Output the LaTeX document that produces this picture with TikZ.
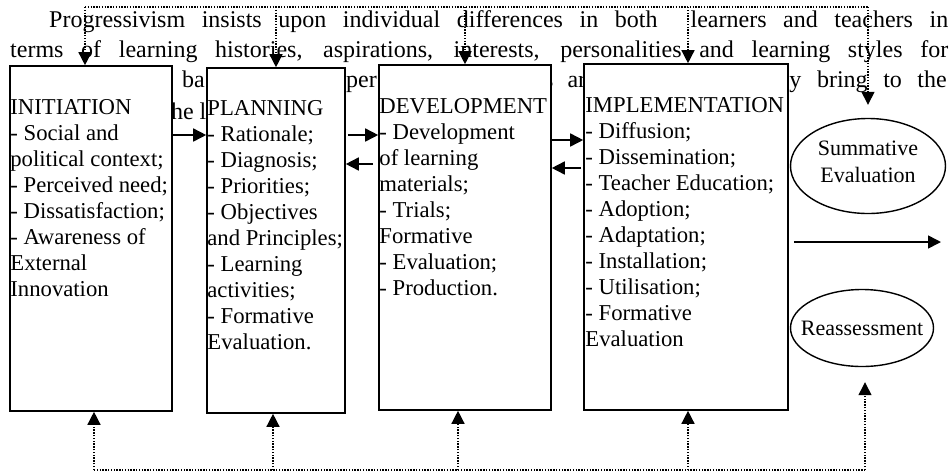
\documentclass[tikz,border=0pt]{standalone}
\usepackage{fontspec}
\setmainfont{Liberation Serif}
\usetikzlibrary{arrows.meta,positioning,shapes.geometric}

\begin{document}
\begin{tikzpicture}[x=1pt,y=-1pt,
    stage/.style={draw, line width=1.6pt, fill=white, inner sep=0pt, minimum height=345pt},
    stagetext/.style={anchor=north west, inner sep=0pt, align=left, font=\fontsize{22.7}{26}\selectfont},
    outcome/.style={ellipse, draw, line width=1.4pt, fill=white, inner sep=0pt},
    outcometext/.style={inner sep=0pt, align=center, font=\fontsize{22}{27}\selectfont},
    para/.style={anchor=base west, inner sep=0pt, font=\fontsize{24}{31}\selectfont},
    flow/.style={line width=1.6pt, -{Triangle[length=13pt,width=13pt]}},
    feedback/.style={line width=1.4pt, dash pattern=on 1.4pt off 1.4pt},
    feedbackarrow/.style={feedback, -{Triangle[length=13pt,width=13pt]}}]
\useasboundingbox (0,0) rectangle (951,475);

% text running behind the boxes
\node[para] (l1) at (49,27) {\makebox[899pt][s]{Progressivism insists upon individual differences in both\ \ learners and teachers in}};
\node[para] (l2) at (10,57) {\makebox[938pt][s]{terms of learning histories, aspirations, interests, personalities and learning styles for}};
\node[para] (l3a) at (182,87) {ba};
\node[para] (l3b) at (346,87) {per};
\node[para] (l3c) at (544,87) {\makebox[42pt][s]{s ar}};
\node[para, anchor=base east] (l3d) at (947,87) {\makebox[168pt][s]{ey bring to the}};
\node[para] (l4) at (171,119) {\makebox[35pt][s]{he l}};

% stages
\node[stage, minimum width=162pt] (init) at (91,238.5) {};
\node[stage, minimum width=138pt] (plan) at (276,240.5) {};
\node[stage, minimum width=172pt] (dev)  at (465,237.5) {};
\node[stage, minimum width=204pt, minimum height=346pt] (impl) at (686,237) {};

\node[stagetext, below right=34pt and 1pt of init.north west] (initT)
    {INITIATION\\- Social and\\political context;\\- Perceived need;\\- Dissatisfaction;\\- Awareness of\\External\\Innovation};
\node[stagetext, below right=33pt and 1pt of plan.north west] (planT)
    {PLANNING\\- Rationale;\\- Diagnosis;\\- Priorities;\\- Objectives\\and Principles;\\- Learning\\activities;\\- Formative\\Evaluation.};
\node[stagetext, below right=34pt and 1pt of dev.north west] (devT)
    {DEVELOPMENT\\- Development\\of learning\\materials;\\- Trials;\\Formative\\- Evaluation;\\- Production.};
\node[stagetext, below right=34pt and 2pt of impl.north west] (implT)
    {IMPLEMENTATION\\- Diffusion;\\- Dissemination;\\- Teacher Education;\\- Adoption;\\- Adaptation;\\- Installation;\\- Utilisation;\\- Formative\\Evaluation};

% outcomes
\node[outcome, minimum width=155pt, minimum height=95pt,
      label={[outcometext, yshift=4pt]center:Summative\\Evaluation}] (summ) at (868,166) {};
\node[outcome, minimum width=143pt, minimum height=77pt,
      label={[outcometext]center:Reassessment}] (reas) at (862,328) {};

% forward and backward arrows
\draw[flow] (init.east |- 0,135) -- (plan.west |- 0,135);
\draw[flow, shorten <=2pt] (plan.east |- 0,135) -- (dev.west |- 0,135);
\draw[flow, shorten <=5pt] (dev.west |- 0,164) -- (plan.east |- 0,164);
\draw[flow] (dev.east |- 0,140) -- (impl.west |- 0,140);
\draw[flow, shorten <=2pt] (impl.west |- 0,168) -- (dev.east |- 0,168);
\coordinate (exit) at (941,242);
\draw[flow, shorten <=5pt] (impl.east |- exit) -- (exit);

% dotted feedback lines
\coordinate (busT) at (0,7);
\coordinate (busB) at (0,470);
\draw[feedback] ([xshift=-6pt]init.north |- busT) -- (summ.north |- busT);
\draw[feedbackarrow] ([xshift=-6pt]init.north |- busT) -- ([xshift=-6pt]init.north);
\draw[feedbackarrow] (plan.north |- busT) -- (plan.north);
\draw[feedbackarrow] (dev.north |- busT) -- (dev.north);
\draw[feedbackarrow] ([xshift=2pt]impl.north |- busT) -- ([xshift=2pt]impl.north);
\draw[feedbackarrow] (summ.north |- busT) -- ([yshift=13pt]summ.north);
\draw[feedback] ([xshift=3pt]init.south |- busB) -- ([xshift=3pt]reas.south |- busB);
\draw[feedbackarrow] ([xshift=3pt]init.south |- busB) -- ([xshift=3pt]init.south);
\draw[feedbackarrow] ([xshift=-3pt]plan.south |- busB) -- ([xshift=-3pt]plan.south);
\draw[feedbackarrow] ([xshift=-7pt]dev.south |- busB) -- ([xshift=-7pt]dev.south);
\draw[feedbackarrow] ([xshift=2pt]impl.south |- busB) -- ([xshift=2pt]impl.south);
\draw[feedbackarrow] ([xshift=3pt]reas.south |- busB) -- ([xshift=3pt,yshift=-15pt]reas.south);
\end{tikzpicture}
\end{document}
